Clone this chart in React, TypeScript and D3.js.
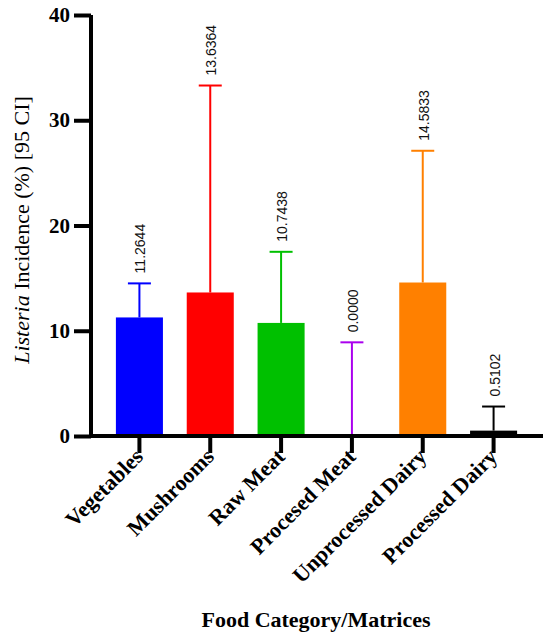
import { useEffect, useRef } from 'react'
import { select, scaleLinear, scaleBand, axisLeft, axisBottom } from 'd3'

const categories = ['Vegetables', 'Mushrooms', 'Raw Meat', 'Procesed Meat', 'Unprocessed Dairy', 'Processed Dairy']
const incidence = [11.2644, 13.6364, 10.7438, 0.0, 14.5833, 0.5102]
const upperCI = [14.5, 33.3, 17.5, 8.9, 27.1, 2.8]
const colors = ['#0000ff', '#ff0000', '#00c000', '#aa00ee', '#ff8000', '#000000']
const yTicks = [0, 10, 20, 30, 40]

const W = 550
const H = 636

export default function App() {
  const svgRef = useRef<SVGSVGElement | null>(null)

  useEffect(() => {
    const svg = select(svgRef.current)
    svg.selectAll('*').remove()

    const x = scaleBand<string>().domain(categories).range([104, 529]).paddingInner(0.336).paddingOuter(0.168)
    const y = scaleLinear().domain([0, 40]).range([436, 15])

    // bars
    svg
      .selectAll('.bar')
      .data(incidence)
      .join('rect')
      .attr('class', 'bar')
      .attr('x', (_, i) => x(categories[i])!)
      .attr('width', x.bandwidth())
      .attr('y', (d) => y(d))
      .attr('height', (d) => y(0) - y(d))
      .attr('fill', (_, i) => colors[i])

    // error bars (upper only)
    const err = svg.selectAll('.err').data(upperCI).join('g').attr('class', 'err')
    err
      .append('line')
      .attr('x1', (_, i) => x(categories[i])! + x.bandwidth() / 2)
      .attr('x2', (_, i) => x(categories[i])! + x.bandwidth() / 2)
      .attr('y1', (_, i) => y(incidence[i]))
      .attr('y2', (d) => y(d))
      .attr('stroke', (_, i) => colors[i])
      .attr('stroke-width', 2)
    err
      .append('line')
      .attr('x1', (_, i) => x(categories[i])! + x.bandwidth() / 2 - 11.5)
      .attr('x2', (_, i) => x(categories[i])! + x.bandwidth() / 2 + 11.5)
      .attr('y1', (d) => y(d))
      .attr('y2', (d) => y(d))
      .attr('stroke', (_, i) => colors[i])
      .attr('stroke-width', 2)

    // value labels
    svg
      .selectAll('.val')
      .data(incidence)
      .join('text')
      .attr('class', 'val')
      .attr('transform', (_, i) => {
        const cx = x(categories[i])! + x.bandwidth() / 2 + 6
        const cy = y(upperCI[i]) - 10
        return `translate(${cx},${cy}) rotate(-90)`
      })
      .attr('font-family', '"Liberation Sans", Arial, sans-serif')
      .attr('font-size', 14)
      .attr('fill', '#111')
      .text((d) => d.toFixed(4))

    // y axis
    const yAxis = axisLeft(y).tickValues(yTicks).tickSize(17).tickPadding(4)
    const gy = svg.append('g').attr('transform', 'translate(91,0)').call(yAxis as any)
    gy.select('.domain').attr('stroke', '#000').attr('stroke-width', 4).attr('d', `M0,${y(40)}V${y(0) + 2}`)
    gy.selectAll('.tick line').attr('stroke', '#000').attr('stroke-width', 4)
    gy.selectAll('.tick text')
      .attr('font-family', '"Liberation Serif", "Times New Roman", serif')
      .attr('font-weight', 'bold')
      .attr('font-size', 21)
      .attr('fill', '#000')

    // x axis
    const xAxis = axisBottom(x).tickSize(17).tickPadding(2)
    const gx = svg.append('g').attr('transform', `translate(0,${y(0)})`).call(xAxis as any)
    gx.select('.domain').attr('stroke', '#000').attr('stroke-width', 4).attr('d', 'M89,0H543')
    gx.selectAll('.tick line').attr('stroke', '#000').attr('stroke-width', 4)
    gx.selectAll('.tick text')
      .attr('font-family', '"Liberation Serif", "Times New Roman", serif')
      .attr('font-weight', 'bold')
      .attr('font-size', 22)
      .attr('fill', '#000')
      .attr('text-anchor', 'end')
      .attr('x', 0)
      .attr('y', 0)
      .attr('dy', 0)
      .attr('transform', 'translate(5,22) rotate(-45)')

    // y title
    const yt = svg
      .append('text')
      .attr('transform', 'translate(29,230) rotate(-90)')
      .attr('text-anchor', 'middle')
      .attr('font-family', '"Liberation Serif", "Times New Roman", serif')
      .attr('font-size', 22)
      .attr('fill', '#000')
    yt.append('tspan').attr('font-style', 'italic').text('Listeria')
    yt.append('tspan').text(' Incidence (%) [95 CI]')

    // x title
    svg
      .append('text')
      .attr('x', 316)
      .attr('y', 627)
      .attr('text-anchor', 'middle')
      .attr('font-family', '"Liberation Serif", "Times New Roman", serif')
      .attr('font-weight', 'bold')
      .attr('font-size', 22)
      .attr('fill', '#000')
      .text('Food Category/Matrices')
  }, [])

  return (
    <svg
      ref={svgRef}
      width={W}
      height={H}
      style={{ position: 'absolute', left: 0, top: 0, background: '#fff' }}
    />
  )
}
